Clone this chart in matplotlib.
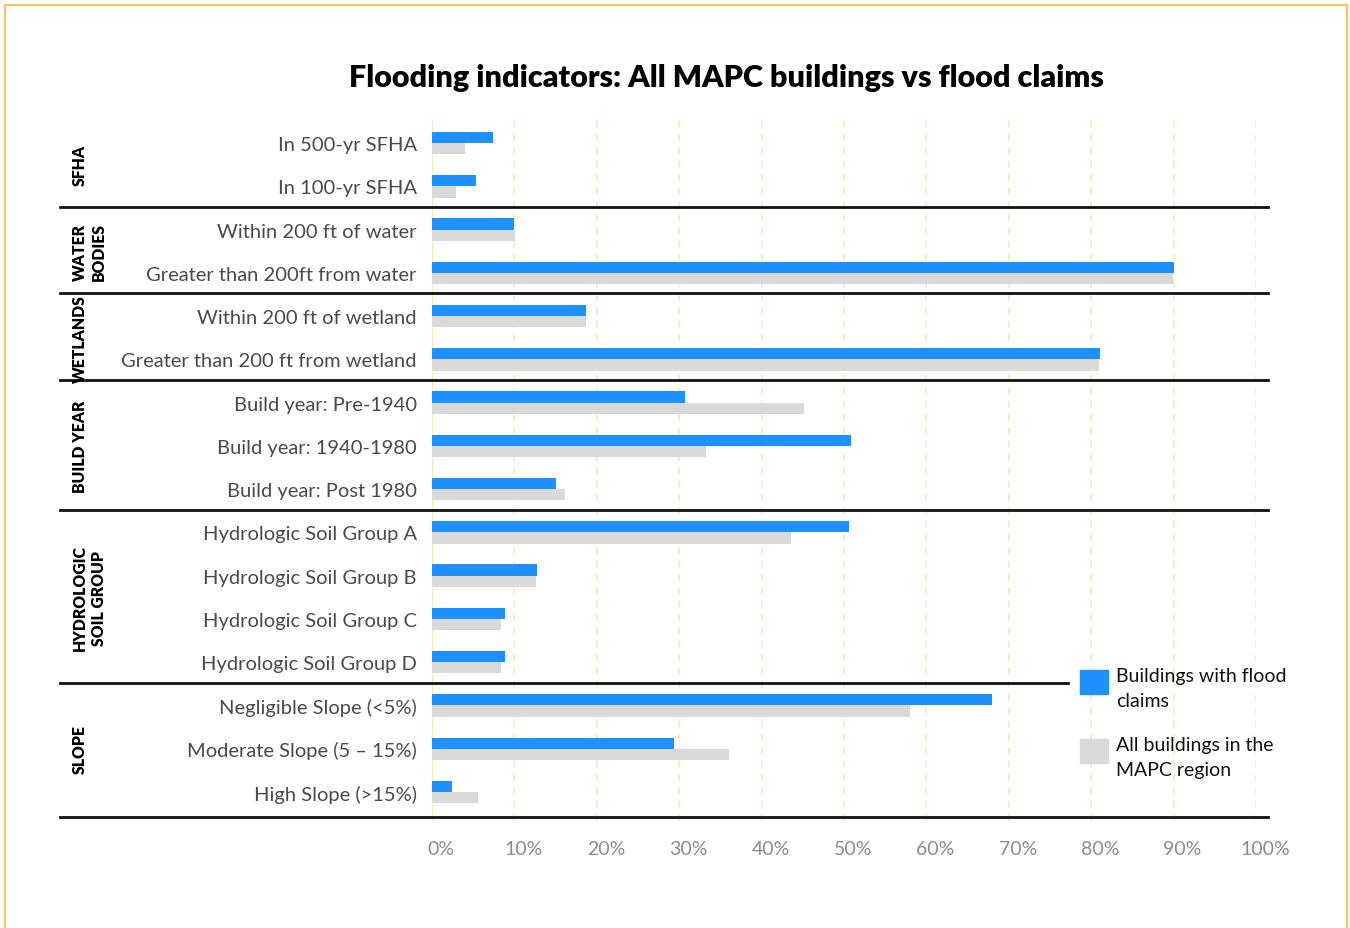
"""Flooding indicators: all MAPC buildings vs buildings with flood claims."""

import matplotlib

matplotlib.use("Agg")
import matplotlib.pyplot as plt
from matplotlib.lines import Line2D
from matplotlib.patches import Rectangle
from matplotlib.transforms import ScaledTranslation, blended_transform_factory

plt.rcParams["font.family"] = ["Lato", "DejaVu Sans"]

GROUPS = ["SFHA", "WATER\nBODIES", "WETLANDS", "BUILD YEAR",
          "HYDROLOGIC\nSOIL GROUP", "SLOPE"]
GROUP_SIZES = [2, 2, 2, 3, 4, 3]

CATEGORIES = [
    "In 500-yr SFHA",
    "In 100-yr SFHA",
    "Within 200 ft of water",
    "Greater than 200ft from water",
    "Within 200 ft of wetland",
    "Greater than 200 ft from wetland",
    "Build year: Pre-1940",
    "Build year: 1940-1980",
    "Build year: Post 1980",
    "Hydrologic Soil Group A",
    "Hydrologic Soil Group B",
    "Hydrologic Soil Group C",
    "Hydrologic Soil Group D",
    "Negligible Slope (<5%)",
    "Moderate Slope (5 \u2013 15%)",
    "High Slope (>15%)",
]

# percent of buildings
FLOOD_CLAIMS = [7.4, 5.3, 9.9, 90.1, 18.7, 81.1, 30.7, 50.8, 15.1,
                50.6, 12.7, 8.9, 8.9, 68.0, 29.4, 2.4]
ALL_BUILDINGS = [4.0, 2.9, 10.1, 89.9, 18.7, 81.0, 45.2, 33.2, 16.1,
                 43.6, 12.6, 8.4, 8.4, 58.0, 36.1, 5.6]

TICKS = list(range(0, 101, 10))
LEGEND_LABELS = ["Buildings with flood\nclaims", "All buildings in the\nMAPC region"]

BLUE = "#1e90ff"
GRAY = "#d9d9d9"
GRID = "#fbe8b4"
W, H = 1350, 929


def fx(x):
    return x / W


def fy(y):
    return 1 - y / H


def main() -> None:
    fig = plt.figure(figsize=(W / 100, H / 100), dpi=100)
    ax = fig.add_axes([fx(432), fy(822), fx(1256) - fx(432), fy(122) - fy(822)])

    rows = list(range(len(CATEGORIES)))
    bh = 0.26
    ax.barh([r - bh / 2 for r in rows], FLOOD_CLAIMS, height=bh, color=BLUE, zorder=3)
    ax.barh([r + bh / 2 for r in rows], ALL_BUILDINGS, height=bh, color=GRAY, zorder=3)

    ax.set_xlim(0, 100)
    ax.set_ylim(15.67, -0.51)
    ax.set_xticks(TICKS)
    ax.set_xticklabels([f"{t}%" for t in TICKS], fontsize=14, color="#8c8c8c")
    ax.set_yticks(rows)
    ax.set_yticklabels(CATEGORIES, fontsize=14.5, color="#4a4a4a")
    ax.tick_params(axis="both", length=0)
    ax.tick_params(axis="x", pad=14)
    ax.tick_params(axis="y", pad=11)
    shift = ScaledTranslation(9 / 100, 0, fig.dpi_scale_trans)
    for lab in ax.get_xticklabels():
        lab.set_transform(lab.get_transform() + shift)
    for s in ax.spines.values():
        s.set_visible(False)
    ax.grid(axis="x", color=GRID, linestyle=(0, (4, 4)), linewidth=1.2, zorder=0)
    ax.axvline(0, color=GRID, linewidth=1.5, zorder=1)

    # group separators and group labels
    trans = blended_transform_factory(fig.transFigure, ax.transData)
    start = 0
    for i, (name, size) in enumerate(zip(GROUPS, GROUP_SIZES)):
        end = start + size
        x_right = 1068 if i == len(GROUPS) - 2 else 1268
        y_line = end - 0.5 - 0.03 if i < len(GROUPS) - 1 else end - 0.42
        fig.add_artist(Line2D([fx(60), fx(x_right)], [y_line, y_line],
                              transform=trans, color="#111111", linewidth=2.0))
        nlines = name.count("\n") + 1
        fig.text(fx(80 + 9.5 * (nlines - 1)), start + (size - 1) / 2, name,
                 transform=trans, rotation=90, ha="center", va="center",
                 fontsize=11.3, fontweight="heavy", linespacing=1.25,
                 multialignment="center", color="#000000")
        start = end

    fig.text(fx(726), fy(78), "Flooding indicators: All MAPC buildings vs flood claims",
             ha="center", va="center", fontsize=22, fontweight="heavy", color="#000000")

    # legend
    for (y_top, color, label) in zip([671, 740], [BLUE, GRAY], LEGEND_LABELS):
        fig.add_artist(Rectangle((fx(1080), fy(y_top + 24)), fx(28), 24 / H,
                                 transform=fig.transFigure, color=color))
        fig.text(fx(1116), fy(y_top - 3), label, ha="left", va="top",
                 fontsize=14, color="#111111", linespacing=1.6)

    # page border
    fig.add_artist(Rectangle((fx(5), -0.02), fx(1347) - fx(5), fy(6) + 0.02,
                             transform=fig.transFigure, fill=False,
                             edgecolor="#fcc65a", linewidth=1.5))

    fig.savefig("out.png", dpi=100)


if __name__ == "__main__":
    main()
